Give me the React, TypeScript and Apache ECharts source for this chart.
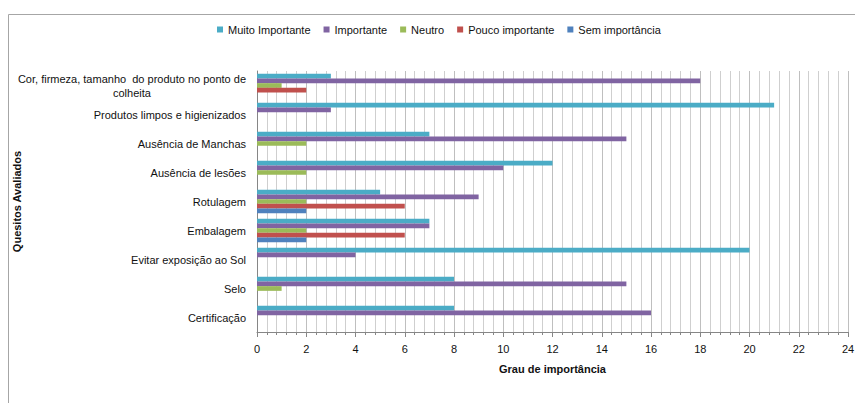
import React, { useEffect, useRef } from "react";
import * as echarts from "echarts";

const categories = [
  "Cor, firmeza, tamanho  do produto no ponto de\ncolheita",
  "Produtos limpos e higienizados",
  "Ausência de Manchas",
  "Ausência de lesões",
  "Rotulagem",
  "Embalagem",
  "Evitar exposição ao Sol",
  "Selo",
  "Certificação",
];

const seriesNames = ["Muito Importante", "Importante", "Neutro", "Pouco importante", "Sem importância"];
const muitoImportante = [3, 21, 7, 12, 5, 7, 20, 8, 8];
const importante = [18, 3, 15, 10, 9, 7, 4, 15, 16];
const neutro = [1, 0, 2, 2, 2, 2, 0, 1, 0];
const poucoImportante = [2, 0, 0, 0, 6, 6, 0, 0, 0];
const semImportancia = [0, 0, 0, 0, 2, 2, 0, 0, 0];
const seriesColors = ["#4BACC6", "#8064A2", "#9BBB59", "#C0504D", "#4F81BD"];

export default function App() {
  const ref = useRef<HTMLDivElement>(null);
  useEffect(() => {
    if (!ref.current) return;
    const chart = echarts.init(ref.current, null, { renderer: "svg" });
    const values = [muitoImportante, importante, neutro, poucoImportante, semImportancia];
    chart.setOption({
      animation: false,
      backgroundColor: "#ffffff",
      textStyle: { fontFamily: "Liberation Sans, Arial, sans-serif" },
      graphic: [
        {
          type: "rect",
          shape: { x: 8.5, y: 14.5, width: 900, height: 500 },
          style: { fill: "none", stroke: "#a6a6a6", lineWidth: 1 },
          silent: true,
        },
      ],
      legend: {
        top: 19,
        left: 212,
        icon: "rect",
        itemWidth: 6,
        itemHeight: 6,
        itemGap: 13,
        textStyle: { fontSize: 11, color: "#111" },
        data: seriesNames,
      },
      grid: { left: 257, right: 7, top: 71, bottom: 71, containLabel: false, outerBoundsMode: "none" },
      xAxis: {
        type: "value",
        min: 0,
        max: 24,
        interval: 2,
        name: "Grau de importância",
        nameLocation: "middle",
        nameGap: 31,
        nameMoveOverlap: false,
        nameTextStyle: { fontSize: 11, fontWeight: "bold", color: "#111" },
        axisLine: { show: true, lineStyle: { color: "#868686" } },
        axisTick: { show: true, length: 5, lineStyle: { color: "#868686" } },
        minorTick: { show: true, splitNumber: 5, length: 3, lineStyle: { color: "#868686" } },
        axisLabel: { fontSize: 11, color: "#111", margin: 11 },
        splitLine: { show: true, lineStyle: { color: "#bfbfbf" } },
        minorSplitLine: { show: true, lineStyle: { color: "#cfcfcf" } },
      },
      yAxis: {
        type: "category",
        inverse: true,
        data: categories,
        name: "Quesitos Avaliados",
        nameLocation: "middle",
        nameRotate: 90,
        nameGap: 235,
        nameMoveOverlap: false,
        nameTextStyle: { fontSize: 11, fontWeight: "bold", color: "#111" },
        axisLine: { show: true, lineStyle: { color: "#868686" } },
        axisTick: { show: false },
        axisLabel: {
          fontSize: 11,
          color: "#111",
          margin: 11,
          lineHeight: 14,
          formatter: (v: string) => {
            if (v.includes("\n")) {
              const [a, b] = v.split("\n");
              return `{a|${a}}\n{c|${b}}`;
            }
            return v;
          },
          rich: {
            a: { fontSize: 11, color: "#111", align: "right", lineHeight: 14 },
            c: { fontSize: 11, color: "#111", align: "center", lineHeight: 14 },
          },
        },
        splitLine: { show: false },
      },
      series: seriesNames.map((name, i) => ({
        name,
        type: "bar",
        data: values[i],
        itemStyle: { color: seriesColors[i] },
        barGap: "0%",
        barCategoryGap: "19%",
      })),
    });
    return () => chart.dispose();
  }, []);
  return (
    <div
      ref={ref}
      style={{ position: "absolute", left: 0, top: 0, width: 855, height: 403 }}
    />
  );
}
